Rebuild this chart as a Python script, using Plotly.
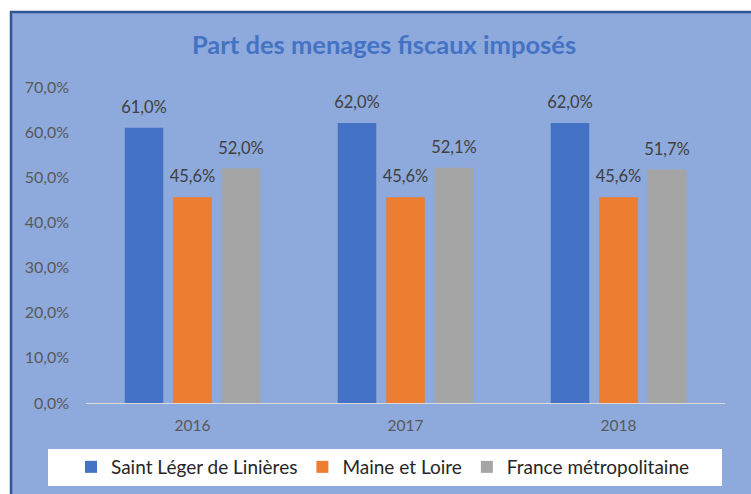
import plotly.graph_objects as go

years = ["2016", "2017", "2018"]
saint_leger = [61.0, 62.0, 62.0]
maine_loire = [45.6, 45.6, 45.6]
france = [52.0, 52.1, 51.7]
series_names = ["Saint Léger de Linières", "Maine et Loire", "France métropolitaine"]
colors = ["#4472C4", "#ED7D31", "#A5A5A5"]
y_ticks = [0, 10, 20, 30, 40, 50, 60, 70]
y_ticktext = [f"{v:.1f}%".replace(".", ",") for v in y_ticks]

W, H = 751, 494
L, R, T, B = 86, 751 - 725, 87, 494 - 403
pw, ph = W - L - R, H - T - B

def px(x):
    return (x - L) / pw

def py(y):
    return (H - B - y) / ph

FONT = "Lato, Open Sans, sans-serif"

fig = go.Figure()
for name, vals, col in zip(series_names, [saint_leger, maine_loire, france], colors):
    fig.add_trace(go.Bar(
        x=years, y=vals, name=name, marker=dict(color=col, line=dict(width=0)),
        texttemplate="<span style='font-size:16.5px'>%{y:.1f}%</span><br>\u00a0",
        textposition="outside", constraintext="none",
        textfont=dict(size=7.5, color="#404040", family=FONT),
        cliponaxis=False,
    ))

fig.update_layout(
    width=W, height=H,
    margin=dict(l=L, r=R, t=T, b=B, autoexpand=False),
    paper_bgcolor="white",
    plot_bgcolor="rgba(0,0,0,0)",
    separators=",.",
    barmode="group",
    bargap=0.317,
    bargroupgap=0.206,
    font=dict(family=FONT, color="#595959"),
    title=dict(
        text="<b>Part des menages fiscaux imposés</b>",
        font=dict(size=25.5, color="#4472C4", family=FONT),
        xref="container", yref="container",
        x=384 / W, y=1 - 45 / H, xanchor="center", yanchor="middle",
    ),
    xaxis=dict(
        type="category", showgrid=False, showline=True, linecolor="#D9D9D9", linewidth=1,
        ticks="", tickfont=dict(size=15.5, color="#595959", family=FONT),
        ticklabelstandoff=8, fixedrange=True,
    ),
    yaxis=dict(
        range=[0, 70], tickvals=y_ticks, ticktext=y_ticktext,
        showgrid=False, zeroline=False, showline=False, ticks="",
        tickfont=dict(size=16, color="#595959", family=FONT),
        ticklabelstandoff=16, fixedrange=True,
    ),
    legend=dict(
        orientation="h", x=px(383), y=py(467), xanchor="center", yanchor="middle",
        bgcolor="rgba(0,0,0,0)", font=dict(size=19, color="#262626", family=FONT),
        itemwidth=30, traceorder="normal",
    ),
    shapes=[
        dict(type="rect", xref="paper", yref="paper", layer="below",
             x0=px(11), x1=px(W + 10), y0=py(12), y1=py(H + 10),
             fillcolor="#8EA9DB", line=dict(color="#2F5597", width=2.5)),
        dict(type="rect", xref="paper", yref="paper", layer="below",
             x0=px(48), x1=px(722), y0=py(449), y1=py(486),
             fillcolor="white", line=dict(width=0)),
    ],
)

fig.write_html("out.html", config={"displayModeBar": False},
               post_script="document.body.style.margin='0';document.body.style.overflow='hidden';")
